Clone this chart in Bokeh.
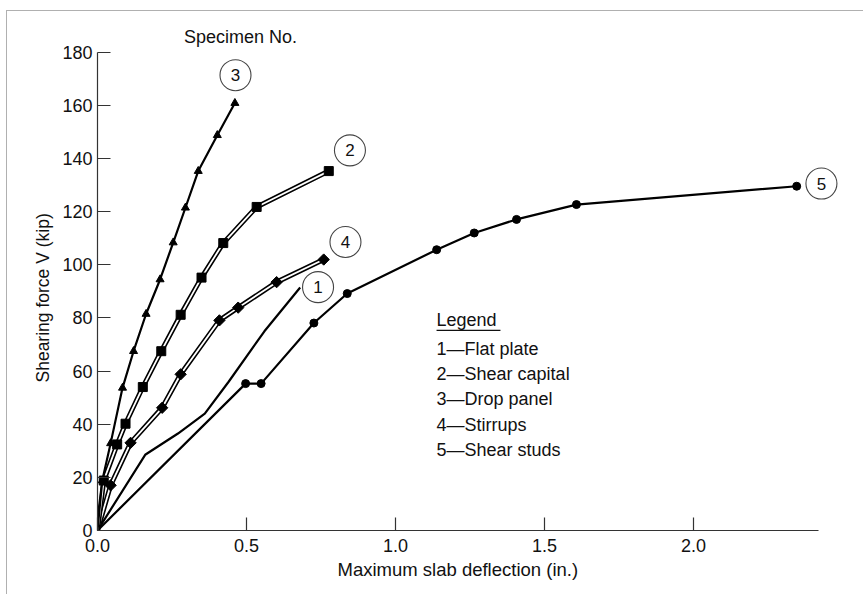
from math import pi
from bokeh.plotting import figure
from bokeh.models import Range1d, FixedTicker, NumeralTickFormatter, Title, ColumnDataSource
from bokeh.core.properties import value
from bokeh.embed import file_html
from bokeh.resources import INLINE

# ---- data ----
# Specimen 1: flat plate (plain line)
s1_x = [0, 0.16, 0.27, 0.36, 0.44, 0.56, 0.68]
s1_y = [0, 28.5, 36.5, 44, 56, 75, 91.5]
# Specimen 2: shear capital (squares, double line)
s2_x = [0, 0.021, 0.066, 0.094, 0.152, 0.214, 0.279, 0.349, 0.422, 0.534, 0.776]
s2_y = [0, 18.8, 32.4, 40.2, 54, 67.5, 81.2, 95.2, 108.2, 121.8, 135.3]
# Specimen 3: drop panel (triangles)
s3_x = [0, 0.016, 0.044, 0.084, 0.121, 0.163, 0.21, 0.254, 0.295, 0.338, 0.402, 0.461]
s3_y = [0, 18.8, 32.8, 53.7, 67.5, 81.5, 94.5, 108.4, 121.5, 135.3, 148.8, 160.9]
# Specimen 4: stirrups (diamonds, double line)
s4_x = [0, 0.044, 0.111, 0.217, 0.279, 0.409, 0.472, 0.601, 0.759]
s4_y = [0, 17, 33, 46.2, 58.8, 79.1, 83.9, 93.5, 102]
# Specimen 5: shear studs (dots)
s5_x = [0, 0.497, 0.549, 0.726, 0.838, 1.138, 1.264, 1.406, 1.607, 2.346]
s5_y = [0, 55.3, 55.3, 78.1, 89.2, 105.7, 112, 117.1, 122.7, 129.6]

specimen_ids = ["1", "2", "3", "4", "5"]
legend_entries = ["1\u2014Flat plate", "2\u2014Shear capital", "3\u2014Drop panel",
                  "4\u2014Stirrups", "5\u2014Shear studs"]
x_ticks = [0, 0.5, 1.0, 1.5, 2.0]
y_ticks = [0, 20, 40, 60, 80, 100, 120, 140, 160, 180]

FONT = "Liberation Sans"
INK = "#111111"

p = figure(width=857, height=584, x_range=Range1d(0, 2.55), y_range=Range1d(0, 195),
           output_backend="svg", toolbar_location=None,
           min_border_left=90, min_border_right=7, min_border_top=1, min_border_bottom=65)
p.styles = {"margin-left": "6px", "margin-top": "10px",
            "border-left": "1px solid #b0b0b0", "border-top": "1px solid #b0b0b0"}
p.grid.visible = False
p.outline_line_color = None
p.background_fill_color = "white"
p.border_fill_color = "white"

for ax in (p.xaxis[0], p.yaxis[0]):
    ax.axis_line_color = "#333333"
    ax.axis_line_width = 1.2
    ax.major_tick_line_color = "#333333"
    ax.major_tick_line_width = 1.2
    ax.major_tick_in = 13
    ax.major_tick_out = 0
    ax.minor_tick_line_color = None
    ax.major_label_text_font = FONT
    ax.major_label_text_font_size = "18px"
    ax.major_label_text_color = INK

p.xaxis.bounds = (0, 2.42)
p.yaxis.bounds = (0, 180)
p.xaxis.ticker = FixedTicker(ticks=x_ticks)
p.yaxis.ticker = FixedTicker(ticks=y_ticks)
p.xaxis.formatter = NumeralTickFormatter(format="0.0")
p.xaxis.major_label_standoff = 8
p.yaxis.major_label_standoff = 5

# axis titles placed as side titles so they can be positioned like the reference
p.add_layout(Title(text="Maximum slab deflection (in.)", align="left", offset=240, standoff=4,
                   text_font=FONT, text_font_size="18.5px", text_font_style="normal",
                   text_color=INK), "below")
p.add_layout(Title(text="Shearing force V (kip)", align="left", offset=148, standoff=13,
                   text_font=FONT, text_font_size="17.5px", text_font_style="normal",
                   text_color=INK), "left")

# ---- curves ----
p.line(s1_x, s1_y, line_color="black", line_width=2.2, line_join="round")
p.line(s5_x, s5_y, line_color="black", line_width=2.2, line_join="round")
p.scatter(s5_x[1:], s5_y[1:], marker="circle", size=8, fill_color="black", line_color="black")

p.line(s4_x, s4_y, line_color="black", line_width=5, line_join="round")
p.line(s4_x, s4_y, line_color="white", line_width=1.8, line_join="round")
p.scatter(s4_x[1:], s4_y[1:], marker="square", angle=pi / 4, size=8, fill_color="black",
          line_color="black")

p.line(s2_x, s2_y, line_color="black", line_width=5, line_join="round")
p.line(s2_x, s2_y, line_color="white", line_width=1.8, line_join="round")
p.scatter(s2_x[1:], s2_y[1:], marker="square", size=9, fill_color="black", line_color="black")

p.line(s3_x, s3_y, line_color="black", line_width=2.2, line_join="round")
p.scatter(s3_x[1:], s3_y[1:], marker="triangle", size=8, fill_color="black", line_color="black")

# ---- circled specimen numbers ----
circ = ColumnDataSource(dict(x=[0.74, 0.847, 0.463, 0.832, 2.429],
                             y=[91.6, 143.1, 171.4, 108.6, 130.6],
                             t=specimen_ids))
p.scatter("x", "y", source=circ, marker="circle", size=31, fill_color="white",
          line_color="#444444", line_width=1.1)
p.text("x", "y", text="t", source=circ, text_font=value(FONT), text_font_size="17px",
       text_align="center", text_baseline="middle", text_color=INK)

p.text([0.48], [185.7], text=["Specimen No."], text_font=value(FONT), text_font_size="18px",
       text_align="center", text_baseline="middle", text_color=INK)

# ---- legend block ----
p.text([1.1376], [79.1], text=["Legend"], text_font=value(FONT), text_font_size="18px",
       text_align="left", text_baseline="middle", text_color=INK)
p.segment(x0=[1.1376], y0=[75.3], x1=[1.352], y1=[75.3], line_color=INK, line_width=1.2)
leg = ColumnDataSource(dict(x=[1.1376] * 5, y=[68.4, 59.0, 49.6, 39.9, 30.4], t=legend_entries))
p.text("x", "y", text="t", source=leg, text_font=value(FONT), text_font_size="18px",
       text_align="left", text_baseline="middle", text_color=INK)

open("out.html", "w").write(file_html(p, INLINE))
